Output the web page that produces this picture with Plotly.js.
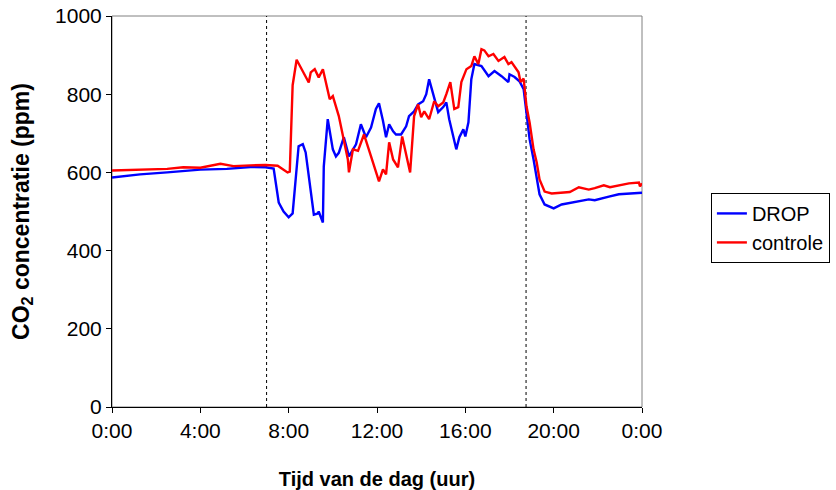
<!DOCTYPE html>
<html>
<head>
<meta charset="utf-8">
<script src="https://cdn.plot.ly/plotly-3.0.1.min.js"></script>
<style>
  html, body { margin: 0; padding: 0; background: #fff; }
  #plot { width: 836px; height: 490px; }
</style>
</head>
<body>
<div id="plot"></div>
<script>
// time of day in hours
const dropHours = [0, 1.27, 2.5, 4.0, 5.2, 6.27, 6.95, 7.32, 7.55, 7.77, 8.0, 8.18, 8.45, 8.64, 8.77, 9.0, 9.14, 9.32, 9.36, 9.55, 9.59, 9.77, 10.0, 10.14, 10.27, 10.5, 10.73, 11.05, 11.27, 11.5, 11.73, 11.95, 12.09, 12.27, 12.41, 12.55, 12.73, 12.86, 13.09, 13.32, 13.45, 13.68, 13.86, 14.09, 14.23, 14.36, 14.55, 14.77, 15.0, 15.14, 15.27, 15.45, 15.59, 15.73, 15.91, 16.0, 16.14, 16.27, 16.41, 16.73, 17.05, 17.32, 17.64, 17.95, 18.0, 18.23, 18.45, 18.64, 18.77, 18.91, 19.09, 19.23, 19.36, 19.59, 20.0, 20.36, 20.82, 21.27, 21.59, 21.86, 22.18, 22.5, 22.95, 23.41, 23.86, 24.0];
const dropValues = [587, 595, 600, 607, 609, 614, 613, 610, 523, 500, 485, 495, 667, 672, 651, 556, 492, 495, 500, 472, 615, 736, 659, 641, 650, 690, 641, 672, 723, 690, 715, 762, 777, 732, 690, 723, 705, 697, 697, 718, 744, 756, 774, 782, 800, 838, 800, 754, 767, 779, 736, 690, 659, 690, 710, 692, 728, 838, 877, 872, 846, 859, 846, 831, 851, 844, 833, 813, 744, 685, 633, 582, 544, 518, 508, 518, 523, 526, 531, 529, 534, 538, 544, 546, 549, 548];

const controleHours = [0, 1.27, 2.5, 3.23, 4.0, 4.91, 5.5, 6.27, 6.95, 7.5, 7.95, 8.05, 8.18, 8.36, 8.64, 8.91, 9.0, 9.18, 9.36, 9.55, 9.86, 10.0, 10.27, 10.68, 10.73, 10.91, 11.14, 11.41, 11.73, 11.95, 12.09, 12.27, 12.41, 12.55, 12.73, 12.95, 13.14, 13.32, 13.5, 13.68, 13.86, 14.0, 14.14, 14.36, 14.59, 14.77, 15.0, 15.14, 15.32, 15.5, 15.68, 15.82, 16.05, 16.27, 16.41, 16.59, 16.73, 16.86, 17.05, 17.27, 17.5, 17.77, 17.95, 18.09, 18.41, 18.5, 18.64, 18.77, 18.91, 19.09, 19.23, 19.36, 19.59, 19.91, 20.36, 20.73, 21.14, 21.59, 21.86, 22.27, 22.55, 22.95, 23.41, 23.86, 23.91, 24.0];
const controleValues = [605, 607, 609, 613, 612, 622, 616, 618, 619, 617, 600, 602, 823, 888, 860, 830, 856, 864, 843, 864, 787, 795, 744, 633, 600, 659, 655, 697, 641, 600, 577, 608, 595, 677, 633, 613, 692, 646, 600, 744, 774, 741, 756, 736, 782, 769, 779, 800, 831, 762, 767, 831, 864, 872, 897, 877, 915, 912, 897, 903, 885, 895, 877, 882, 856, 831, 840, 769, 728, 659, 626, 582, 551, 546, 549, 550, 562, 556, 560, 567, 562, 567, 572, 574, 564, 572];

const markerHours = [7.0, 18.75];
const xTickVals = [0, 4, 8, 12, 16, 20, 24];
const xTickText = ['0:00', '4:00', '8:00', '12:00', '16:00', '20:00', '0:00'];
const yTickVals = [0, 200, 400, 600, 800, 1000];

const FONT = 'Liberation Sans, Arial, sans-serif';

const traces = [
    {
        x: dropHours, y: dropValues, type: 'scatter', mode: 'lines', name: 'DROP',
        line: { color: '#0000ff', width: 2.4 }, hoverinfo: 'none'
    },
    {
        x: controleHours, y: controleValues, type: 'scatter', mode: 'lines', name: 'controle',
        line: { color: '#ff0000', width: 2.4 }, hoverinfo: 'none'
    }
];

const shapes = [
    // grey frame on top/right
    { type: 'rect', xref: 'paper', yref: 'paper', x0: 0, x1: 1, y0: 0, y1: 1,
      line: { color: '#808080', width: 1 }, layer: 'below' }
].concat(markerHours.map(h => ({
    type: 'line', xref: 'x', yref: 'y', x0: h, x1: h, y0: 0, y1: 1000,
    line: { color: '#000', width: 1, dash: 'dot' }, layer: 'below'
})));

const layout = {
    width: 836, height: 490,
    paper_bgcolor: '#fff', plot_bgcolor: '#fff',
    font: { family: FONT, color: '#000', size: 21 },
    margin: { t: 16, b: 83, l: 112, r: 194, autoexpand: false },
    showlegend: true,
    legend: {
        x: 1.13, y: 0.458, xanchor: 'left', yanchor: 'middle',
        bordercolor: '#000', borderwidth: 1, bgcolor: '#fff',
        font: { family: FONT, size: 20 }, tracegroupgap: 0
    },
    xaxis: {
        range: [0, 24], tickvals: xTickVals, ticktext: xTickText,
        showgrid: false, zeroline: false, showline: true, linecolor: '#000', linewidth: 1,
        ticks: 'outside', ticklen: 5, tickcolor: '#000',
        title: { text: '<b>Tijd van de dag (uur)</b>', font: { size: 20 }, standoff: 30 },
        fixedrange: true
    },
    yaxis: {
        range: [0, 1000], tickvals: yTickVals,
        showgrid: false, zeroline: false, showline: true, linecolor: '#000', linewidth: 1,
        ticks: 'outside', ticklen: 5, tickcolor: '#000',
        title: { text: '<b>CO<sub>2</sub> concentratie (ppm)</b>', font: { size: 23 }, standoff: 19 },
        fixedrange: true
    },
    shapes: shapes,
    hovermode: false
};

Plotly.newPlot('plot', traces, layout, { displayModeBar: false, staticPlot: true });
</script>
</body>
</html>
